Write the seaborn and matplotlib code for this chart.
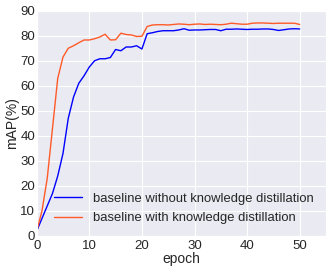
import matplotlib
matplotlib.use("Agg")
import matplotlib.pyplot as plt
import seaborn as sns
import numpy as np
import pandas as pd

# data
epochs = list(range(51))
map_baseline = [
    2, 7, 12, 17, 24, 33, 47, 55.5, 61, 64,
    67.5, 70, 70.8, 70.8, 71.3, 74.5, 74, 75.5, 75.5, 76,
    74.7, 80.8, 81.2, 81.7, 82, 82, 82, 82.3, 82.8, 82.2,
    82.3, 82.3, 82.4, 82.5, 82.5, 82, 82.6, 82.6, 82.7, 82.6,
    82.5, 82.6, 82.6, 82.7, 82.7, 82.5, 82.1, 82.4, 82.7, 82.8,
    82.7,
]
map_kd = [
    2, 10, 23, 43, 63, 71.5, 75, 76, 77.2, 78.3,
    78.3, 78.8, 79.5, 80.6, 78.3, 78.4, 81, 80.5, 80.3, 79.7,
    79.8, 83.7, 84.3, 84.4, 84.4, 84.3, 84.5, 84.7, 84.6, 84.4,
    84.6, 84.7, 84.5, 84.6, 84.5, 84.4, 84.6, 85, 84.8, 84.6,
    84.6, 85, 85.1, 85.1, 85, 84.9, 85, 85, 85, 85,
    84.5,
]
series_names = ["baseline without knowledge distillation",
                "baseline with knowledge distillation"]

df = pd.DataFrame({
    "epoch": epochs * 2,
    "mAP": map_baseline + map_kd,
    "series": [series_names[0]] * len(epochs) + [series_names[1]] * len(epochs),
})

sns.set_style("darkgrid")
plt.rcParams['font.family'] = ['Liberation Sans', 'DejaVu Sans']

fig = plt.figure(figsize=(3.32, 2.73), dpi=100)
ax = fig.add_axes([36.7 / 332, 1 - 236 / 273, (326 - 36.7) / 332, (236 - 10.7) / 273])
sns.lineplot(
    data=df, x="epoch", y="mAP", hue="series",
    palette=["blue", "#ff5a28"], linewidth=1.0, ax=ax,
)
ax.set_xlim(0, 55)
ax.set_ylim(0, 90)
ax.set_xticks(np.arange(0, 51, 10))
ax.set_yticks(np.arange(0, 91, 10))
ax.tick_params(labelsize=9.5, length=0)
ax.tick_params(axis='x', pad=3)
ax.tick_params(axis='y', pad=1)
ax.set_xlabel("epoch", fontsize=10, labelpad=0)
ax.set_ylabel("mAP(%)", fontsize=10, labelpad=1)
ax.legend(title=None, fontsize=9.4, frameon=False, loc="lower right",
          bbox_to_anchor=(1.0, 0.0), handlelength=2.1, handletextpad=0.9,
          labelspacing=0.55)

plt.savefig("out.png", dpi=100)
